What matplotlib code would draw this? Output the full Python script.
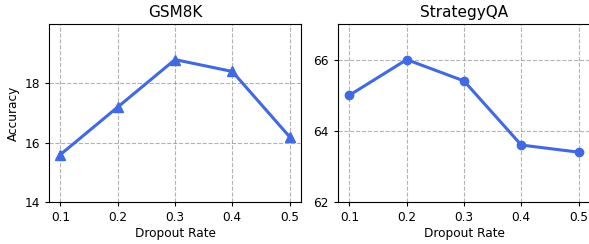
import matplotlib
matplotlib.use("Agg")
import matplotlib.pyplot as plt

dropout = [0.1, 0.2, 0.3, 0.4, 0.5]
gsm8k = [15.6, 17.2, 18.8, 18.4, 16.2]
strategyqa = [65.0, 66.0, 65.4, 63.6, 63.4]
color = "royalblue"

plt.rcParams["font.size"] = 8.7
plt.rcParams["axes.titlesize"] = 11
plt.rcParams["xtick.major.size"] = 3
plt.rcParams["ytick.major.size"] = 3

fig = plt.figure(figsize=(5.89, 2.44), dpi=100)
ax1 = fig.add_axes([49 / 589, 42 / 244, 252 / 589, 178 / 244])
ax2 = fig.add_axes([338 / 589, 42 / 244, 252 / 589, 178 / 244])

ax1.plot(dropout, gsm8k, marker="^", color=color, linewidth=2.2, markersize=6.5)
ax1.set_title("GSM8K", pad=5)
ax1.set_xlabel("Dropout Rate", labelpad=2)
ax1.set_ylabel("Accuracy", labelpad=3)
ax1.set_ylim(14, 20)
ax1.set_yticks([14, 16, 18])
ax1.set_xticks(dropout)

ax2.plot(dropout, strategyqa, marker="o", color=color, linewidth=2.2, markersize=6)
ax2.set_title("StrategyQA", pad=5)
ax2.set_xlabel("Dropout Rate", labelpad=2)
ax2.set_ylim(62, 67)
ax2.set_yticks([62, 64, 66])
ax2.set_xticks(dropout)

for ax in (ax1, ax2):
    ax.grid(True, linestyle="--", color="gray", alpha=0.6)

fig.savefig("out.png", dpi=100)
